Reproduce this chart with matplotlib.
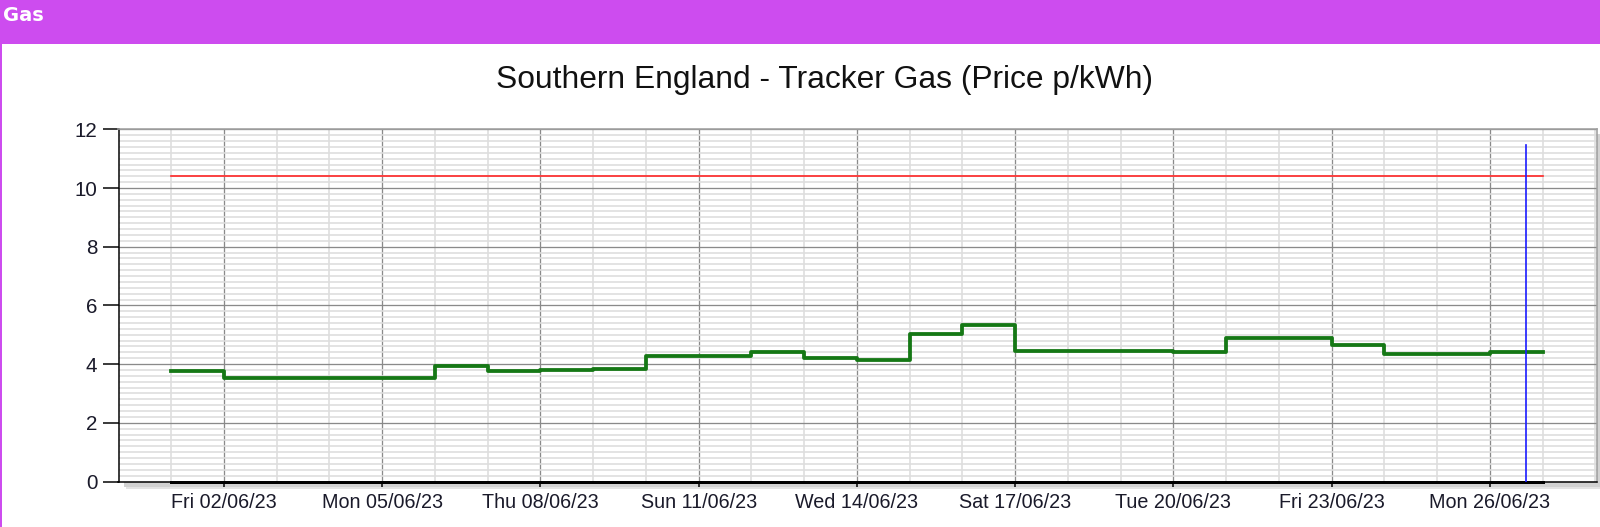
"""Redraw the 'Southern England - Tracker Gas' daily price chart as out.png."""

import matplotlib

matplotlib.use("Agg")
import matplotlib.dates as mdates
import matplotlib.pyplot as plt
import numpy as np
import pandas as pd
from matplotlib.patches import Rectangle

# Daily tracker unit rate (p/kWh), one value per day from Thu 01/06/23.
DAYS = pd.date_range("2023-06-01", "2023-06-26", freq="D")
PRICES = [
    3.78, 3.53, 3.53, 3.53, 3.53, 3.95, 3.78, 3.80, 3.82, 4.28,
    4.29, 4.40, 4.22, 4.14, 5.03, 5.32, 4.46, 4.46, 4.46, 4.40,
    4.90, 4.90, 4.64, 4.35, 4.35, 4.40,
]
PERIOD_END = pd.Timestamp("2023-06-27")
PRICE_CAP = 10.40
NOW = pd.Timestamp("2023-06-26 16:20")
NOW_LINE_TOP = 11.45

X_LIMITS = (pd.Timestamp("2023-05-31"), pd.Timestamp("2023-06-28 00:45"))
X_TICKS = pd.date_range("2023-06-02", "2023-06-26", freq="3D")
Y_TICKS = [0, 2, 4, 6, 8, 10, 12]

TITLE = "Southern England - Tracker Gas (Price p/kWh)"
HEADER = "Gas"

_W, _H, _DPI = 1600, 527, 100
_PURPLE = "#cd4cef"
_GREEN = "#157815"
_RED = "#ff2a2a"
_BLUE = "#1f1fff"
_MAJOR_GRID = "#8a8a8a"
_MINOR_GRID = "#dddddd"
_FRAME = "#a0a0a0"
_FONT = ["Liberation Sans", "DejaVu Sans"]


def px(n: float) -> float:
    """Convert pixels to points at the output dpi."""
    return n * 72 / _DPI


def main() -> None:
    fig = plt.figure(figsize=(_W / _DPI, _H / _DPI), dpi=_DPI, facecolor="white")

    # header strip and the thin purple left border
    fig.patches.append(
        Rectangle((0, 1 - 43.5 / _H), 1, 43.5 / _H, transform=fig.transFigure,
                  facecolor=_PURPLE, edgecolor="none", zorder=2)
    )
    fig.patches.append(
        Rectangle((0, 0), 1.6 / _W, 1, transform=fig.transFigure,
                  facecolor=_PURPLE, edgecolor="none", zorder=2)
    )
    fig.text(2.5 / _W, 1 - 20.7 / _H, HEADER, color="white", fontsize=14,
             fontweight="bold", family="DejaVu Sans", va="baseline", ha="left")
    fig.text(824 / _W, 1 - 80 / _H, TITLE, fontsize=22.9, family=_FONT,
             ha="center", va="center", color="#111111")

    left, right = 118.5 / _W, 1597 / _W
    bottom, top = 1 - 481.5 / _H, 1 - 129.3 / _H
    ax = fig.add_axes([left, bottom, right - left, top - bottom])

    # soft drop shadow below and to the right of the plot frame
    for off, shade in ((7, "#e4e4e4"), (5, "#d2d2d2")):
        fig.patches.append(
            Rectangle((left + off / _W, bottom - off / _H), right - left, top - bottom,
                      transform=fig.transFigure, facecolor=shade,
                      edgecolor="none", zorder=-1)
        )

    steps_x = list(DAYS) + [PERIOD_END]
    steps_y = PRICES + [PRICES[-1]]
    ax.plot(steps_x, steps_y, drawstyle="steps-post", color=_GREEN,
            linewidth=px(3.8), zorder=4, solid_joinstyle="round")
    ax.plot([DAYS[0], PERIOD_END], [PRICE_CAP, PRICE_CAP], color=_RED,
            linewidth=px(1.7), zorder=3)
    ax.plot([DAYS[0], PERIOD_END], [0, 0], color="black", linewidth=px(3),
            zorder=5, clip_on=False)
    ax.plot([NOW, NOW], [0, NOW_LINE_TOP], color=_BLUE, linewidth=px(1.7),
            zorder=6)

    ax.set_xlim(*X_LIMITS)
    ax.set_ylim(0, 12)
    ax.set_xticks(X_TICKS)
    ax.set_xticklabels([d.strftime("%a %d/%m/%y") for d in X_TICKS])
    ax.xaxis.set_minor_locator(mdates.DayLocator())
    ax.set_yticks(Y_TICKS)
    ax.set_yticks(np.arange(0, 12.01, 0.2), minor=True)

    ax.grid(which="minor", color=_MINOR_GRID, linewidth=px(1.6), zorder=0)
    ax.grid(which="major", color=_MAJOR_GRID, linewidth=px(1.3), zorder=1)
    ax.set_axisbelow(True)

    for side in ("left", "bottom"):
        ax.spines[side].set_color("black")
        ax.spines[side].set_linewidth(px(1.5))
    for side in ("top", "right"):
        ax.spines[side].set_color(_FRAME)
        ax.spines[side].set_linewidth(px(1.6))

    ax.tick_params(which="minor", length=0)
    ax.tick_params(axis="y", which="major", length=px(16), width=px(1.5),
                   pad=px(5), labelsize=px(20.5), colors="black")
    ax.tick_params(axis="x", which="major", length=px(5), width=px(1.5),
                   pad=px(7), labelsize=px(19.8), colors="black")
    for label in ax.get_xticklabels() + ax.get_yticklabels():
        label.set_family(_FONT)
        label.set_color("#1a1a2a")

    fig.savefig("out.png", dpi=_DPI, facecolor="white")
    plt.close(fig)


if __name__ == "__main__":
    main()
